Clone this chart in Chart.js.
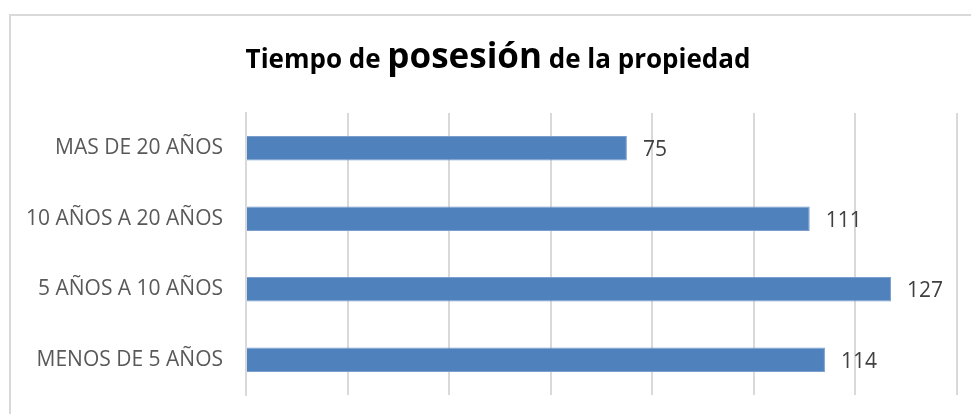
<!DOCTYPE html>
<html>
<head>
<meta charset="utf-8">
<script src="https://cdn.jsdelivr.net/npm/chart.js@4.4.1/dist/chart.umd.min.js"></script>
<style>
  html, body { margin: 0; padding: 0; background: #fff; overflow: hidden; }
  #frame {
    position: absolute; left: 9px; top: 14px; width: 990px; height: 420px;
    border-left: 2px solid #d9d9d9; border-top: 2px solid #d9d9d9;
  }
  #myChart1 { position: absolute; left: 0; top: 0; }
</style>
</head>
<body>
<div id="frame"></div>
<canvas id="myChart1" width="971" height="414"></canvas>
<script>
// data
var categories = ["MAS DE 20 AÑOS", "10 AÑOS A 20 AÑOS", "5 AÑOS A 10 AÑOS", "MENOS DE 5 AÑOS"];
var yValues = [75, 111, 127, 114];
var titleParts = [["Tiempo de ", 26], ["posesión", 35], [" de la propiedad", 26]];
var xTicks = [0, 20, 40, 60, 80, 100, 120, 140];

// title with mixed font sizes
var mixedTitle = {
  id: "mixedTitle",
  afterDraw: function(chart){
    var ctx = chart.ctx;
    ctx.save();
    ctx.fillStyle = "#000";
    ctx.textBaseline = "alphabetic";
    var total = 0;
    titleParts.forEach(function(p){
      ctx.font = "bold " + p[1] + "px 'Open Sans'";
      total += ctx.measureText(p[0]).width;
    });
    var x = 498 - total / 2;
    titleParts.forEach(function(p){
      ctx.font = "bold " + p[1] + "px 'Open Sans'";
      ctx.fillText(p[0], x, 68);
      x += ctx.measureText(p[0]).width;
    });
    ctx.restore();
  }
};

// value labels at end of bars
var valueLabels = {
  id: "valueLabels",
  afterDatasetsDraw: function(chart){
    var ctx = chart.ctx;
    var meta = chart.getDatasetMeta(0);
    ctx.save();
    ctx.font = "21px 'Open Sans'";
    ctx.fillStyle = "#404040";
    ctx.textBaseline = "middle";
    meta.data.forEach(function(bar, i){
      ctx.fillText(String(yValues[i]), bar.x + 16, bar.y + 2);
    });
    ctx.restore();
  }
};

new Chart("myChart1", {
  type: "bar",
  data: {
    labels: categories,
    datasets: [{
      data: yValues,
      backgroundColor: "#4f81bd",
      borderColor: "#7a9fcf",
      borderWidth: 1,
      categoryPercentage: 1,
      barPercentage: 0.35
    }]
  },
  options: {
    indexAxis: "y",
    responsive: false,
    animation: false,
    layout: { padding: { left: 10, right: 14, top: 113, bottom: 19 } },
    plugins: {
      legend: { display: false },
      title: { display: false },
      tooltip: { enabled: false }
    },
    scales: {
      x: {
        min: 0, max: 140,
        afterBuildTicks: function(scale){
          scale.ticks = xTicks.map(function(v){ return { value: v }; });
        },
        afterFit: function(scale){
          scale.height = 0;
          scale.paddingLeft = 0; scale.paddingRight = 0;
          scale.paddingTop = 0; scale.paddingBottom = 0;
        },
        ticks: { display: false },
        grid: { color: "#d9d9d9", lineWidth: 2, drawTicks: false },
        border: { display: false }
      },
      y: {
        afterFit: function(scale){
          scale.width = 236;
          scale.paddingTop = 0; scale.paddingBottom = 0;
        },
        ticks: { color: "#595959", font: { family: "'Open Sans'", size: 21 }, padding: 23 },
        grid: { display: false, drawTicks: false },
        border: { display: true, color: "#d9d9d9", width: 2 }
      }
    }
  },
  plugins: [mixedTitle, valueLabels]
});
</script>
</body>
</html>
